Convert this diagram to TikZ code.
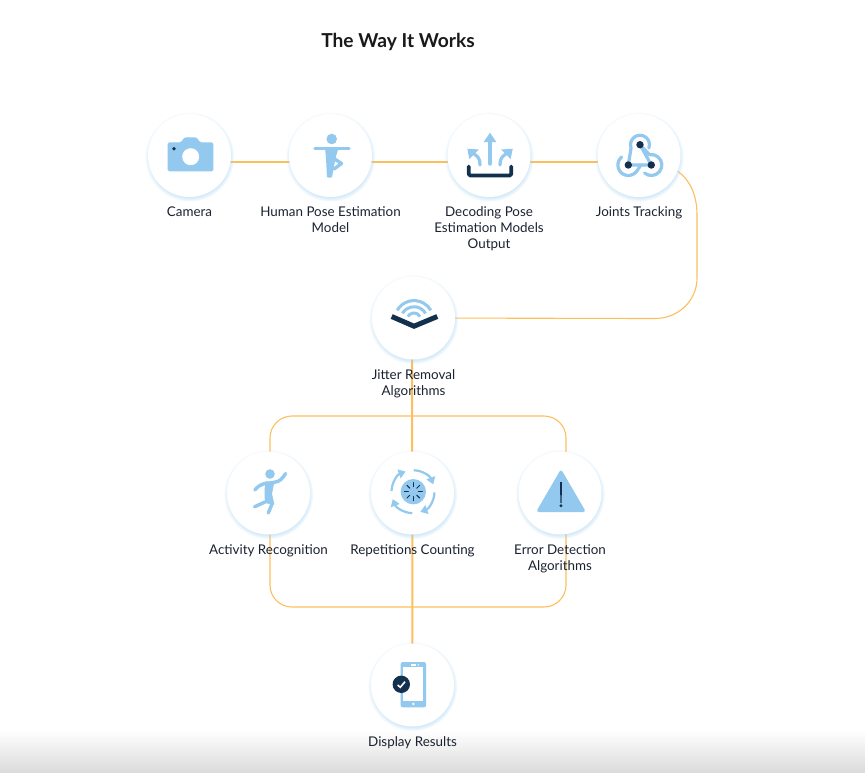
\documentclass[tikz,border=0pt]{standalone}
\usepackage{fontspec}
\setmainfont{Lato}
\usetikzlibrary{positioning,arrows.meta,shadows,backgrounds}
\definecolor{flowline}{HTML}{FDBE5C}
\definecolor{iconblue}{HTML}{93C9EF}
\definecolor{icondark}{HTML}{14304F}
\definecolor{textdark}{HTML}{1B2230}
\definecolor{haloblue}{HTML}{A5D3F3}

\begin{document}
\begin{tikzpicture}[x=1pt, y=-1pt, >=Triangle,
    stepnode/.style={circle, fill=white, minimum size=83pt, inner sep=0pt,
        circular drop shadow={shadow xshift=0pt, shadow yshift=-1.2pt, shadow scale=1.08, fill=haloblue, opacity=.7}},
    steptext/.style={align=center, inner sep=0pt, text=textdark, font=\fontsize{13.4}{16}\selectfont, below=9.5pt of #1},
    flow/.style={draw=flowline, line width=1.1pt},
    flowstraight/.style={draw=flowline, line width=2pt},
    iconline/.style={draw=iconblue, line width=#1, line cap=round, line join=round},
    darkline/.style={draw=icondark, line width=#1, line cap=round, line join=round}]
    \useasboundingbox (0,0) rectangle (865,772);
    % Titel
    \node[inner sep=0pt, text=black!90, font=\fontsize{19.2}{22}\selectfont\bfseries] (title) at (398,42) {The Way It Works};
    % Stappen
    \node[stepnode] (camera) at (189.5,155.5) {};
    \node[stepnode] (humanpose) at (330.5,155.5) {};
    \node[stepnode] (decoding) at (489,155.5) {};
    \node[stepnode] (joints) at (639,155.5) {};
    \node[stepnode] (jitter) at (413.5,318) {};
    \node[stepnode] (activity) at (268.5,493) {};
    \node[stepnode] (repetitions) at (412.5,493) {};
    \node[stepnode] (errors) at (560,493) {};
    \node[stepnode] (display) at (412.5,685) {};
    % Tussenpunten
    \coordinate (branchtop) at (412,416);
    \coordinate (mergebottom) at (412,607);
    % Verbindingen
    \begin{scope}[on background layer]
        \shade[top color=white, bottom color=black!14] (0,730) rectangle (865,772);
        \draw[flowstraight] ([yshift=-6pt]camera.center) -- ([yshift=-6pt]humanpose.center);
        \draw[flowstraight] ([yshift=-6pt]humanpose.center) -- ([yshift=-6pt]decoding.center);
        \draw[flowstraight] ([yshift=-6pt]decoding.center) -- ([yshift=-6pt]joints.center);
        \draw[flow] (joints.-22) .. controls (690,180) and (697,195) .. (697,215) -- (697,278) .. controls (697,301) and (678,318.5) .. (655,318.5) -- (jitter.center);
        \draw[flowstraight] ([xshift=-1.5pt]jitter.center) -- (display.center);
        \draw[flow, rounded corners=22pt] (branchtop) -| ([xshift=1.5pt]activity.center) |- (mergebottom);
        \draw[flow, rounded corners=22pt] (branchtop) -| ([xshift=6pt]errors.center) |- (mergebottom);
    \end{scope}
    % Teksten
    \node[steptext=camera] (cameratext) {Camera};
    \node[steptext=humanpose] (humanposetext) {Human Pose Estimation\\Model};
    \node[steptext=decoding] (decodingtext) {Decoding Pose\\Estimation Models\\Output};
    \node[steptext=joints] (jointstext) {Joints Tracking};
    \node[steptext=jitter] (jittertext) {Jitter Removal\\Algorithms};
    \node[steptext=activity] (activitytext) {Activity Recognition};
    \node[steptext=repetitions] (repetitionstext) {Repetitions Counting};
    \node[steptext=errors] (errorstext) {Error Detection\\Algorithms};
    \node[steptext=display] (displaytext) {Display Results};
    % Icoon camera
    \fill[iconblue, rounded corners=1.5pt] (167.7,142.3) -- (181,142.3) -- (184.5,137.3) -- (196.5,137.3) -- (200,142.3) -- (213.3,142.3) -- (213.3,171.3) -- (167.7,171.3) -- cycle;
    \fill[white] (190.7,156.7) circle (8.5);
    \fill[icondark] (174,148.7) circle (1.9);
    % Icoon houding
    \fill[iconblue] (331.7,139) circle (5.3);
    \draw[iconline=3.4pt] (315,148.3) -- (349,148.3);
    \fill[iconblue, rounded corners=1pt] (325,148) -- (338.5,148) -- (335.5,158) -- (332,177.5) -- (327,177.5) -- (326,158) -- cycle;
    \draw[iconline=3.4pt] (334,158.5) -- (341.5,163.5) -- (334,169);
    % Icoon decoderen
    \draw[darkline=3.8pt, rounded corners=1.5pt] (468.7,166.5) -- (468.7,175.5) -- (511.3,175.5) -- (511.3,166.5);
    \draw[iconline=3.4pt] (490,164) -- (490,140);
    \fill[iconblue] (490,132.7) -- (496.3,142) -- (483.7,142) -- cycle;
    \draw[iconline=3.2pt] (473,153) .. controls (478,157) and (480,158) .. (480,165);
    \fill[iconblue] (467.3,148.7) -- (478.8,149.5) -- (469.3,159) -- cycle;
    \draw[iconline=3.2pt] (507,153) .. controls (502,157) and (500,158) .. (500,165);
    \fill[iconblue] (512.7,148.7) -- (501.2,149.5) -- (510.7,159) -- cycle;
    % Icoon gewrichten
    \draw[iconline=3.2pt] (640,144.7) ++(20:9.5) arc[start angle=20, end angle=-200, radius=9.5] -- (628.3,165) -- (651.3,165);
    \draw[iconline=3.2pt] (628.3,165) ++(-130:10.5) arc[start angle=-130, end angle=-320, radius=10.5] -- (641,165);
    \draw[iconline=3.2pt] (651.3,165) ++(-230:10.5) arc[start angle=-230, end angle=-460, radius=10.5] -- (640,144.7);
    \draw[iconline=3.2pt] (651.3,165) -- (640,144.7);
    \fill[icondark] (640,144.7) circle (3.7) (628.3,165) circle (3.7) (651.3,165) circle (3.7);
    % Icoon jitter
    \foreach \arcsize in {7,13.3,19.4}
        \draw[iconline=3pt, line cap=butt] (414,320) ++(-150:\arcsize) arc[start angle=-150, end angle=-30, radius=\arcsize];
    \draw[icondark, line width=5pt, line join=miter] (391.7,316.5) -- (414,326.2) -- (437.3,316.5);
    % Icoon activiteit
    \fill[iconblue] (270,474) circle (4.8);
    \fill[iconblue, rounded corners=1pt] (265,481.5) -- (274.5,481) -- (272,494) -- (274.5,505) -- (265,503) -- (264.5,494) -- cycle;
    \draw[iconline=3.4pt] (273,482.5) .. controls (280,482) and (283,478) .. (285.5,473.5);
    \draw[iconline=3.4pt] (267,483) .. controls (261,484) and (257,487) .. (254.8,490);
    \draw[iconline=3.4pt] (265,502) -- (254.5,506.8);
    \draw[iconline=3.4pt] (272,504) -- (268.3,513);
    % Icoon herhalingen
    \fill[iconblue] (413.3,491.7) circle (12.7);
    \foreach \tickangle in {0,45,...,315}
        \draw[darkline=1pt] (413.3,491.7) ++(\tickangle:5) -- ++(\tickangle:4);
    \foreach \arcstart/\arcend in {-88/-20,2/70,92/160,-178/-110}
        \draw[iconline=2.2pt, line cap=butt, -{Triangle[length=7pt,width=9pt]}] (413,491.7) ++(\arcstart:21.5) arc[start angle=\arcstart, end angle=\arcend, radius=21.5];
    % Icoon fout
    \fill[iconblue, rounded corners=3pt] (561,469) -- (586,512) -- (536,512) -- cycle;
    \fill[icondark] (560,482) -- (562,482) -- (561.6,503) -- (560.4,503) -- cycle;
    \fill[icondark] (561,505.7) circle (1.7);
    % Icoon scherm
    \fill[iconblue, rounded corners=2pt] (400.7,662) rectangle (426,707.3);
    \fill[white] (403.3,666.7) rectangle (423.3,700.7);
    \fill[white] (411,664.2) rectangle (415.7,665.6);
    \fill[white] (418.3,664.9) circle (.8);
    \fill[white] (413.3,703.9) circle (1.3);
    \fill[icondark] (401.3,684.3) circle (8.7);
    \draw[white, line width=1.6pt] (397.7,685) -- (400.3,687.3) -- (405,681.7);
\end{tikzpicture}
\end{document}
